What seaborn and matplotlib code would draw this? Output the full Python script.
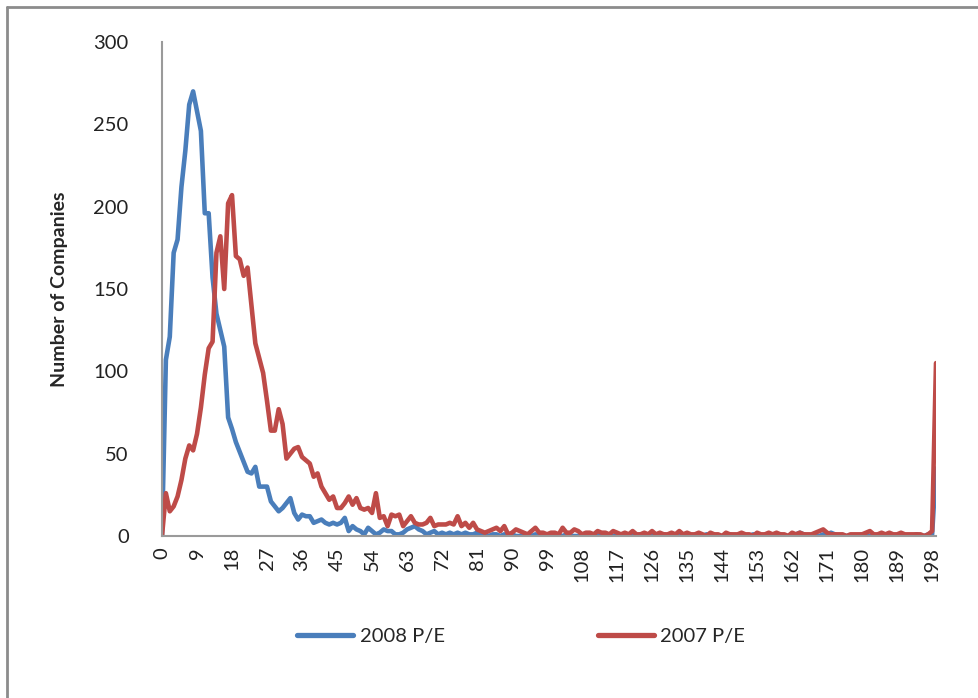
import numpy as np
import pandas as pd
import matplotlib
matplotlib.use("Agg")
import matplotlib.pyplot as plt
import seaborn as sns
from matplotlib.lines import Line2D

# P/E bins (0..199, last bin collects 199+)
pe_bins = list(range(200))

pe_2008 = [
    0, 107, 121, 172, 180, 212, 234, 262, 270, 258,
    246, 196, 196, 157, 135, 125, 115, 72, 65, 57,
    51, 45, 39, 38, 42, 30, 30, 30, 21, 18,
    15, 17, 20, 23, 14, 10, 13, 12, 12, 8,
    9, 10, 8, 7, 8, 7, 8, 11, 3, 6,
    4, 3, 1, 5, 3, 1, 2, 4, 3, 3,
    1, 1, 2, 4, 5, 6, 4, 3, 1, 2,
    3, 1, 2, 1, 2, 1, 2, 1, 2, 1,
    1, 2, 1, 1, 0, 1, 1, 0, 1, 0,
    1, 0, 0, 1, 0, 0, 1, 0, 0, 0,
    1, 0, 0, 0, 1, 0, 0, 0, 0, 1,
    0, 0, 0, 1, 0, 0, 0, 0, 1, 0,
    0, 0, 0, 1, 0, 0, 0, 0, 0, 1,
    0, 0, 0, 0, 1, 0, 0, 0, 0, 0,
    1, 0, 0, 0, 0, 0, 1, 0, 0, 0,
    0, 0, 1, 0, 0, 0, 0, 0, 0, 1,
    0, 0, 1, 1, 2, 1, 0, 0, 0, 0,
    1, 1, 2, 1, 0, 0, 0, 0, 0, 0,
    1, 0, 0, 0, 0, 0, 1, 0, 0, 0,
    0, 0, 0, 0, 1, 0, 0, 1, 1, 41,
]

pe_2007 = [
    0, 26, 15, 18, 24, 34, 47, 55, 52, 62,
    78, 98, 114, 118, 172, 182, 150, 202, 207, 170,
    168, 158, 163, 140, 117, 108, 99, 82, 64, 64,
    77, 68, 47, 50, 53, 54, 48, 46, 44, 36,
    38, 30, 26, 22, 24, 17, 17, 20, 24, 19,
    23, 17, 16, 17, 14, 26, 11, 12, 6, 13,
    12, 13, 6, 9, 12, 8, 7, 7, 8, 11,
    6, 7, 7, 7, 8, 7, 12, 6, 8, 5,
    8, 4, 3, 2, 3, 4, 5, 3, 6, 1,
    2, 4, 3, 2, 1, 3, 5, 2, 2, 1,
    2, 2, 1, 5, 2, 2, 4, 3, 1, 2,
    2, 1, 3, 2, 2, 1, 3, 2, 1, 2,
    1, 3, 1, 1, 2, 1, 3, 1, 2, 1,
    1, 2, 1, 3, 1, 2, 1, 1, 2, 1,
    0, 2, 1, 1, 0, 2, 1, 1, 1, 2,
    1, 1, 0, 2, 1, 1, 2, 1, 2, 1,
    1, 0, 2, 1, 2, 1, 1, 1, 2, 3,
    4, 2, 1, 1, 1, 1, 0, 1, 1, 1,
    1, 2, 3, 1, 1, 2, 1, 2, 1, 1,
    2, 1, 1, 1, 1, 1, 0, 1, 3, 105,
]

series_names = ["2008 P/E", "2007 P/E"]
series_colors = ["#4A7EBB", "#BE4B48"]
tick_step = 9

df = pd.DataFrame({
    "bin": pe_bins * 2,
    "count": pe_2008 + pe_2007,
    "series": [series_names[0]] * len(pe_bins) + [series_names[1]] * len(pe_bins),
})

sns.set_theme(style="white")
plt.rcParams["font.family"] = ["Lato", "DejaVu Sans"]

fig = plt.figure(figsize=(9.79, 6.98), dpi=100)
ax = fig.add_axes([162 / 979, 1 - 536 / 698, (936 - 162) / 979, (536 - 42) / 698])

sns.lineplot(data=df, x="bin", y="count", hue="series",
             palette=dict(zip(series_names, series_colors)),
             linewidth=3.3, ax=ax, legend=False)

ax.set_xlim(0, len(pe_bins) - 1)
ax.set_ylim(0, 300)
ax.set_yticks(range(0, 301, 50))
ax.set_yticklabels([str(v) for v in range(0, 301, 50)], fontsize=14.5, color="#222222")
xt = list(range(0, len(pe_bins), tick_step))
ax.set_xticks(xt)
ax.set_xticklabels([str(v) for v in xt], rotation=90, fontsize=14.5, color="#222222")
ax.tick_params(axis="both", length=0, pad=8)
ax.tick_params(axis="y", pad=24)
ax.set_xlabel("")
ax.set_ylabel("Number of Companies", fontsize=14, fontweight="bold")
ax.yaxis.set_label_coords(-0.121, 0.5)

for side in ["top", "right"]:
    ax.spines[side].set_visible(False)
for side in ["left", "bottom"]:
    ax.spines[side].set_color("#9a9a9a")
    ax.spines[side].set_linewidth(1.5)

handles = [Line2D([0], [0], color=c, lw=3.8, solid_capstyle="round") for c in series_colors]
fig.legend(handles, series_names, loc="center", bbox_to_anchor=(521 / 979, 1 - 636 / 698),
           ncol=2, frameon=False, fontsize=14.5, handlelength=2.8, handletextpad=0.3,
           columnspacing=7.6)

# chart-area border (top and left edges visible)
fig.add_artist(Line2D([7 / 979, 1.0], [1 - 7 / 698, 1 - 7 / 698], color="#8c8c8c", lw=2))
fig.add_artist(Line2D([7 / 979, 7 / 979], [0.0, 1 - 7 / 698], color="#8c8c8c", lw=2))

fig.savefig("out.png", dpi=100)
